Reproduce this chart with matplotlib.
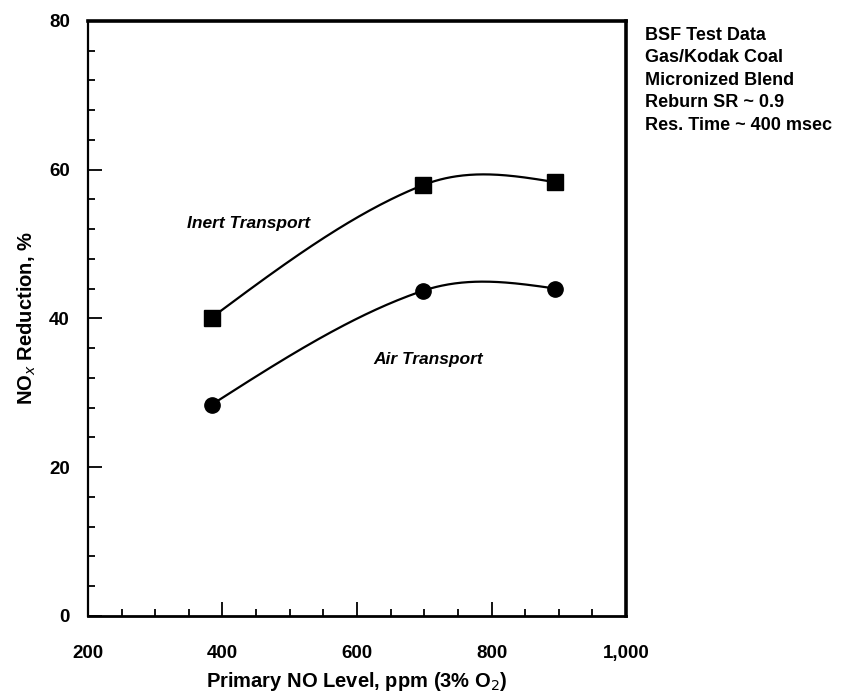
import numpy as np
import matplotlib.pyplot as plt
from matplotlib.ticker import MultipleLocator, FuncFormatter

plt.rcParams['font.family'] = ['Liberation Sans', 'DejaVu Sans']

# Primary NO level (ppm) and NOx reduction (%)
no_level = [384, 698, 895]
inert_transport = [40.1, 57.9, 58.3]
air_transport = [28.4, 43.7, 44.0]

notes = ["BSF Test Data", "Gas/Kodak Coal", "Micronized Blend",
         "Reburn SR ~ 0.9", "Res. Time ~ 400 msec"]


def smooth_curve(x, y, n=100):
    # cubic Hermite through the points, Catmull-Rom tangents inside,
    # quadratic end conditions
    x = np.asarray(x, float)
    y = np.asarray(y, float)
    s = np.diff(y) / np.diff(x)
    m = np.empty_like(x)
    m[1:-1] = (y[2:] - y[:-2]) / (x[2:] - x[:-2])
    m[0] = (3 * s[0] - m[1]) / 2
    m[-1] = (3 * s[-1] - m[-2]) / 2
    xs, ys = [], []
    for i in range(len(x) - 1):
        h = x[i + 1] - x[i]
        t = np.linspace(0, 1, n)
        h00 = 2 * t**3 - 3 * t**2 + 1
        h10 = t**3 - 2 * t**2 + t
        h01 = -2 * t**3 + 3 * t**2
        h11 = t**3 - t**2
        xs.append(x[i] + t * h)
        ys.append(h00 * y[i] + h10 * h * m[i] + h01 * y[i + 1] + h11 * h * m[i + 1])
    return np.concatenate(xs), np.concatenate(ys)


fig = plt.figure(figsize=(8.5, 6.92), dpi=100)
ax = fig.add_axes([0.1035, 0.110, 0.633, 0.860])

for vals, mk, ms in [(inert_transport, 's', 12), (air_transport, 'o', 11)]:
    cx, cy = smooth_curve(no_level, vals)
    ax.plot(cx, cy, color='black', lw=1.6)
    ax.plot(no_level, vals, linestyle='none', marker=mk, ms=ms,
            color='black')

ax.text(347, 52.8, "Inert Transport", style='italic', fontweight='bold',
        fontsize=12.5, va='center', ha='left')
ax.text(624, 34.4, "Air Transport", style='italic', fontweight='bold',
        fontsize=12.5, va='center', ha='left')

ax.set_xlim(200, 1000)
ax.set_ylim(0, 80)
ax.xaxis.set_major_locator(MultipleLocator(200))
ax.xaxis.set_minor_locator(MultipleLocator(50))
ax.yaxis.set_major_locator(MultipleLocator(20))
ax.yaxis.set_minor_locator(MultipleLocator(4))
ax.xaxis.set_major_formatter(FuncFormatter(lambda v, p: f"{int(v):,}"))
ax.tick_params(which='both', direction='in', top=False, right=False,
               labelsize=13.5, width=1.3)
ax.tick_params(which='major', length=10)
ax.tick_params(axis='x', which='major', pad=21)
ax.tick_params(axis='y', which='major', pad=13)
ax.tick_params(which='minor', length=5)
for lab in ax.get_xticklabels() + ax.get_yticklabels():
    lab.set_fontweight('bold')

ax.spines['top'].set_linewidth(2.6)
ax.spines['right'].set_linewidth(2.6)
ax.spines['left'].set_linewidth(1.6)
ax.spines['bottom'].set_linewidth(2.0)

ax.set_xlabel("Primary NO Level, ppm (3% O$_2$)", fontsize=14.5,
              fontweight='bold', labelpad=6)
ax.set_ylabel("NO$_x$ Reduction, %", fontsize=14.5, fontweight='bold',
              labelpad=8)

fig.text(0.759, 0.961, "\n".join(notes), fontsize=13, fontweight='bold',
         va='top', ha='left', linespacing=1.42)

fig.savefig("out.png", dpi=100)
